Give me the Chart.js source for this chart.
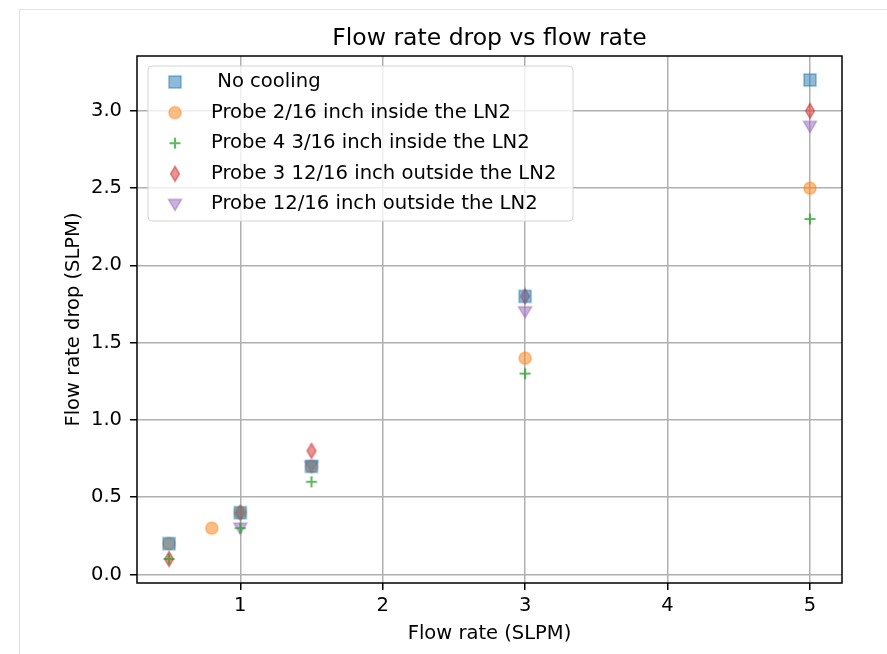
<!DOCTYPE html>
<html>

<head>
    <meta charset="UTF-8">
    <title>Flow rate drop vs flow rate</title>
    <script src="https://cdn.jsdelivr.net/npm/chart.js"></script>
    <style>
        html, body { margin: 0; padding: 0; background: #fff; overflow: hidden; }
        #frame {
            position: absolute; left: 19px; top: 9px; width: 900px; height: 700px;
            border: 1px solid #d3e6ea; box-sizing: border-box;
        }
        #chart { position: absolute; left: 0; top: 0; }
    </style>
</head>

<body>
    <div id="frame"></div>
    <canvas id="chart" width="887" height="654"></canvas>

    <script>
        // values
        var chartTitle = 'Flow rate drop vs flow rate';
        var seriesNames = [' No cooling', 'Probe 2/16 inch inside the LN2', 'Probe 4 3/16 inch inside the LN2',
            'Probe 3 12/16 inch outside the LN2', 'Probe 12/16 inch outside the LN2'];

        var xNoCooling = [0.5, 1, 1.5, 3, 5];
        var yNoCooling = [0.2, 0.4, 0.7, 1.8, 3.2];

        var xProbe2 = [0.5, 0.8, 1, 1.5, 3, 5];
        var yProbe2 = [0.2, 0.3, 0.4, 0.7, 1.4, 2.5];

        var xProbe4 = [0.5, 1, 1.5, 3, 5];
        var yProbe4 = [0.1, 0.3, 0.6, 1.3, 2.3];

        var xProbe3 = [0.5, 1, 1.5, 3, 5];
        var yProbe3 = [0.1, 0.4, 0.8, 1.8, 3.0];

        var xProbe12 = [1, 1.5, 3, 5];
        var yProbe12 = [0.3, 0.7, 1.7, 2.9];

        var xTicks = [1, 2, 3, 4, 5];
        var yTicks = [0, 0.5, 1, 1.5, 2, 2.5, 3];

        var colors = ['31,119,180', '255,127,14', '44,160,44', '214,39,40', '148,103,189'];

        function pairs(xs, ys) {
            return xs.map(function (x, i) { return { x: x, y: ys[i] }; });
        }

        // matplotlib-like marker images
        function makeMarker(shape, rgb) {
            var c = document.createElement('canvas');
            c.width = 18; c.height = 18;
            var g = c.getContext('2d');
            var m = 9;
            g.fillStyle = 'rgba(' + rgb + ',0.5)';
            g.strokeStyle = 'rgba(' + rgb + ',0.5)';
            g.lineWidth = 1.5;
            g.beginPath();
            if (shape === 'square') {
                g.rect(m - 6, m - 6, 12, 12);
            } else if (shape === 'circle') {
                g.arc(m, m, 6, 0, Math.PI * 2);
            } else if (shape === 'diamond') {
                g.moveTo(m, m - 7.5); g.lineTo(m + 4.5, m); g.lineTo(m, m + 7.5); g.lineTo(m - 4.5, m); g.closePath();
            } else if (shape === 'tridown') {
                g.moveTo(m - 6.5, m - 5); g.lineTo(m + 6.5, m - 5); g.lineTo(m, m + 6); g.closePath();
            }
            if (shape === 'plus') {
                g.strokeStyle = 'rgba(' + rgb + ',0.75)';
                g.lineWidth = 2.2;
                g.moveTo(m - 5.5, m); g.lineTo(m + 5.5, m);
                g.moveTo(m, m - 5.5); g.lineTo(m, m + 5.5);
                g.stroke();
            } else {
                g.fill(); g.stroke();
            }
            return c;
        }

        var markers = [
            makeMarker('square', colors[0]),
            makeMarker('circle', colors[1]),
            makeMarker('plus', colors[2]),
            makeMarker('diamond', colors[3]),
            makeMarker('tridown', colors[4])
        ];

        var allData = [pairs(xNoCooling, yNoCooling), pairs(xProbe2, yProbe2), pairs(xProbe4, yProbe4),
            pairs(xProbe3, yProbe3), pairs(xProbe12, yProbe12)];

        var datasets = allData.map(function (d, i) {
            return {
                label: seriesNames[i],
                data: d,
                pointStyle: markers[i],
                pointRadius: 9,
                pointHoverRadius: 9
            };
        });

        // frame, title over the plot area, in-plot legend
        var boxAndLegend = {
            id: 'boxAndLegend',
            afterDatasetsDraw: function (chart) {
                var ctx = chart.ctx, a = chart.chartArea;
                ctx.save();
                ctx.strokeStyle = '#000';
                ctx.lineWidth = 1.5;
                ctx.strokeRect(a.left, a.top, a.right - a.left, a.bottom - a.top);

                ctx.fillStyle = '#000';
                ctx.font = '23.5px "DejaVu Sans"';
                ctx.textAlign = 'center';
                ctx.textBaseline = 'middle';
                ctx.fillText(chartTitle, (a.left + a.right) / 2, 38.5);

                var lx = 148, ly = 66, lw = 425, lh = 155;
                ctx.beginPath();
                ctx.roundRect(lx, ly, lw, lh, 4);
                ctx.fillStyle = 'rgba(255,255,255,0.8)';
                ctx.fill();
                ctx.strokeStyle = '#d4d4d4';
                ctx.lineWidth = 1;
                ctx.stroke();

                ctx.font = '19.6px "DejaVu Sans"';
                ctx.fillStyle = '#000';
                ctx.textAlign = 'left';
                chart.data.datasets.forEach(function (ds, i) {
                    var y = 82 + i * 30.6;
                    ctx.drawImage(markers[i], 175 - 9, y - 9);
                    ctx.fillText(ds.label, 211, y);
                });
                ctx.restore();
            }
        };

        var ctx = document.getElementById('chart').getContext('2d');
        var chart = new Chart(ctx, {
            type: 'scatter',
            data: { datasets: datasets },
            plugins: [boxAndLegend],
            options: {
                responsive: false,
                animation: false,
                layout: { padding: { left: 62, right: 45, top: 56, bottom: 8 } },
                plugins: {
                    legend: { display: false },
                    tooltip: { enabled: false },
                    title: { display: false }
                },
                scales: {
                    x: {
                        type: 'linear',
                        min: 0.275,
                        max: 5.225,
                        afterBuildTicks: function (s) { s.ticks = xTicks.map(function (v) { return { value: v }; }); },
                        afterFit: function (s) { s.height = 63; },
                        ticks: {
                            color: '#000',
                            font: { family: 'DejaVu Sans', size: 19.5 },
                            padding: 4,
                            maxRotation: 0,
                            callback: function (v) { return String(v); }
                        },
                        grid: { color: '#b0b0b0', lineWidth: 1.5, tickColor: '#000', tickLength: 7 },
                        border: { display: false },
                        title: {
                            display: true,
                            text: 'Flow rate (SLPM)',
                            color: '#000',
                            font: { family: 'DejaVu Sans', size: 19.5 },
                            padding: { top: 2, bottom: 0 }
                        }
                    },
                    y: {
                        type: 'linear',
                        min: -0.055,
                        max: 3.355,
                        afterBuildTicks: function (s) { s.ticks = yTicks.map(function (v) { return { value: v }; }); },
                        afterFit: function (s) { s.width = 75; },
                        ticks: {
                            color: '#000',
                            font: { family: 'DejaVu Sans', size: 19.5 },
                            padding: 8,
                            callback: function (v) { return v.toFixed(1); }
                        },
                        grid: { color: '#b0b0b0', lineWidth: 1.5, tickColor: '#000', tickLength: 7 },
                        border: { display: false },
                        title: {
                            display: true,
                            text: 'Flow rate drop (SLPM)',
                            color: '#000',
                            font: { family: 'DejaVu Sans', size: 19.5 },
                            padding: { top: 0, bottom: 0 }
                        }
                    }
                }
            }
        });
    </script>
</body>

</html>
